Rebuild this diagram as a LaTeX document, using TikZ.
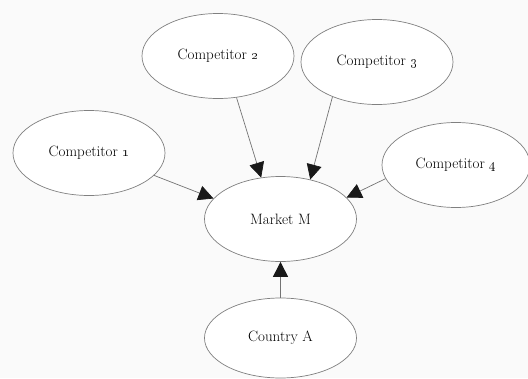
\documentclass[tikz,border=0pt]{standalone}
\usetikzlibrary{shapes.geometric,arrows.meta}
\begin{document}
\begin{tikzpicture}[x=1pt,y=-1pt,
  party/.style={ellipse,draw=black!50,line width=0.7pt,fill=white,
    minimum width=152pt,minimum height=85pt,inner sep=0pt,
    text=black,font=\fontsize{15}{18}\selectfont},
  link/.style={draw=black!55,line width=0.7pt,
    -{Triangle[length=15pt,width=15pt,color=black!90]}}]
  % canvas
  \useasboundingbox (0,0) rectangle (528,378);
  \fill[black!2] (0,0) rectangle (528,378);
  % parties
  \node[party] (c2) at (218,56)  {Competitor \oldstylenums{2}};
  \node[party] (c3) at (377,62)  {Competitor \oldstylenums{3}};
  \node[party] (c1) at (89,153)  {Competitor \oldstylenums{1}};
  \node[party,minimum width=148pt] (c4) at (456,165) {Competitor \oldstylenums{4}};
  \node[party] (m)  at (280.5,219) {Market M};
  \node[party,minimum height=80pt] (ca) at (280.5,338) {Country A};
  % influences on the market
  \draw[link] (c2.-66.6)  -- (m.115.5);
  \draw[link] (c3.-142)   -- (m.53.3);
  \draw[link] (c1.-19.4)  -- (m.163);
  \draw[link] (c4.-169.8) -- (m.18.7);
  \draw[link] (ca.north)  -- (m.south);
\end{tikzpicture}
\end{document}
